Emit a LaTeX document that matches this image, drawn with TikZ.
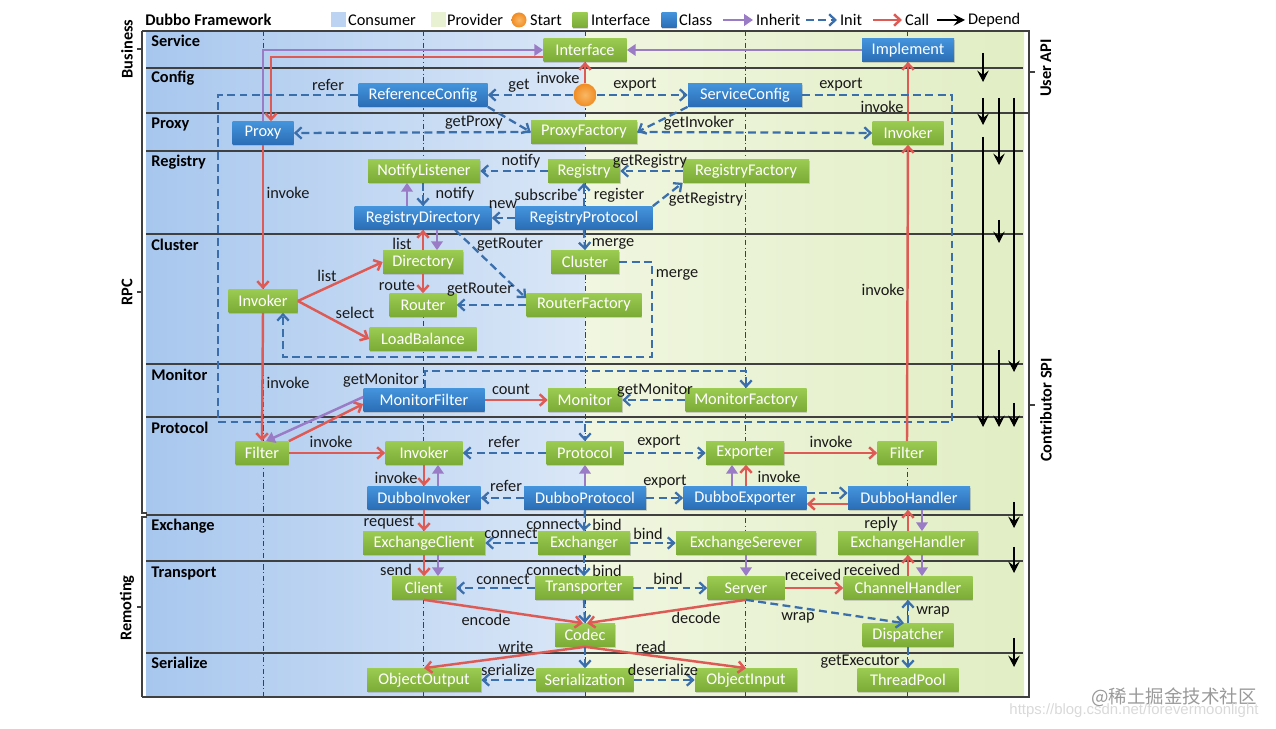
\documentclass[tikz,border=0pt]{standalone}
\usepackage{fontspec}
\setmainfont{Carlito}
\newfontfamily\cjkfont{Noto Sans CJK SC}
\newfontfamily\wmfont{Liberation Sans}
\usetikzlibrary{arrows.meta,shadows,calc}
\definecolor{callc}{HTML}{DD5A55}
\definecolor{initc}{HTML}{3A6FAC}
\definecolor{inhc}{HTML}{9A7BC6}
\definecolor{gtop}{HTML}{9CCB52}
\definecolor{gbot}{HTML}{7BAA36}
\definecolor{btop}{HTML}{4494DC}
\definecolor{bbot}{HTML}{2A6DB6}
\definecolor{consL}{HTML}{A8C7EE}
\definecolor{consR}{HTML}{DAE7F7}
\definecolor{provL}{HTML}{F0F6E0}
\definecolor{provR}{HTML}{E1EEC4}
\definecolor{startin}{HTML}{F9B866}
\definecolor{startout}{HTML}{F08C22}
\definecolor{laneline}{HTML}{404040}
\begin{document}
\begin{tikzpicture}[x=0.02cm,y=-0.02cm,font=\fontsize{9.3}{11}\selectfont,
  box/.style={inner sep=0pt,minimum height=0.46cm,text=white,
    drop shadow={shadow xshift=0.5pt,shadow yshift=-0.7pt,opacity=0.3}},
  ifc/.style={box,top color=gtop,bottom color=gbot},
  cls/.style={box,top color=btop,bottom color=bbot},
  startball/.style={circle,inner sep=0,inner color=startin,outer color=startout},
  wd/.style={minimum width=#1*0.02cm},
  lbl/.style={inner sep=0.5pt,text=black!90},
  layer/.style={font=\fontsize{9.3}{11}\selectfont\bfseries,anchor=west,inner sep=0pt},
  init/.style={draw=initc,line width=1.3pt,dash pattern=on 4.5pt off 2.5pt,-{Straight Barb[length=3.5pt,width=6.5pt]}},
  call/.style={draw=callc,line width=1.4pt,-{Straight Barb[length=3.5pt,width=6.5pt]}},
  inh/.style={draw=inhc,line width=1.4pt,-{Triangle[length=5pt,width=6.5pt]}},
  dep/.style={draw=black,line width=0.6pt,-{Stealth[length=6.5pt,width=6.5pt,inset=2.5pt]}},
  lane/.style={draw=laneline,line width=0.4pt,dash pattern=on 3pt off 1.5pt on 0.6pt off 1.5pt},
  sep/.style={draw=laneline,line width=0.7pt},
  brk/.style={draw=black!75,line width=0.8pt}]
\useasboundingbox (0,0) rectangle (1276,729);
% backgrounds
\shade[left color=consL,right color=consR] (146,31) rectangle (585,697);
\shade[left color=provL,right color=provR] (585,31) rectangle (1024,697);
% lanes
\foreach \xx in {263,423,585,745,907} \draw[lane] (\xx,31) -- (\xx,697);
% layer separators
\foreach \yy in {68,113,151,234,364,417,515,561,653} \draw[sep] (146,\yy) -- (1023,\yy);
% frame and brackets
\draw[brk] (142,31) -- (1029,31) -- (1029,697) -- (142,697);
\draw[brk] (142,31) -- (142,513) -- (147,513);
\draw[brk] (147,517) -- (142,517) -- (142,697);
\draw[brk] (142,49) -- (137,49) (142,292) -- (137,292) (142,607) -- (137,607);
\draw[brk] (1029,113) -- (1023,113) (1029,72) -- (1035,72) (1029,405) -- (1035,405);
\node[rotate=90,font=\fontsize{9.3}{11}\selectfont\bfseries] (gbus) at (127,49) {Business};
\node[rotate=90,font=\fontsize{9.3}{11}\selectfont\bfseries] (grpc) at (127,292) {RPC};
\node[rotate=90,font=\fontsize{9.3}{11}\selectfont\bfseries] (grem) at (127,608) {Remoting};
\node[rotate=90,font=\fontsize{9.3}{11}\selectfont\bfseries] (guser) at (1046,68) {User API};
\node[rotate=90,font=\fontsize{9.3}{11}\selectfont\bfseries] (gspi) at (1046,410) {Contributor SPI};
% layer names
\node[layer] (ly1) at (151,41) {Service};
\node[layer] (ly2) at (151,78) {Config};
\node[layer] (ly3) at (151,124) {Proxy};
\node[layer] (ly4) at (151,162) {Registry};
\node[layer] (ly5) at (151,245) {Cluster};
\node[layer] (ly6) at (151,375) {Monitor};
\node[layer] (ly7) at (151,428) {Protocol};
\node[layer] (ly8) at (151,526) {Exchange};
\node[layer] (ly9) at (151,573) {Transport};
\node[layer] (ly10) at (151,663) {Serialize};
% legend
\node[layer] (title) at (145,20) {Dubbo Framework};
\node[inner sep=0,minimum size=15*0.02cm,fill=consL!60!consR] (sw1) at (338,20) {};
\node[anchor=west,inner sep=1pt] (lt1) at (346,20) {Consumer};
\node[inner sep=0,minimum size=15*0.02cm,fill=provL!50!provR] (sw2) at (438,20) {};
\node[anchor=west,inner sep=1pt] (lt2) at (445,20) {Provider};
\node[startball,minimum size=15*0.02cm] (sw3) at (519,20) {};
\node[anchor=west,inner sep=1pt] (lt3) at (528,20) {Start};
\node[ifc,minimum size=15*0.02cm] (sw4) at (580,20) {};
\node[anchor=west,inner sep=1pt] (lt4) at (589,20) {Interface};
\node[cls,minimum size=15*0.02cm] (sw5) at (669,20) {};
\node[anchor=west,inner sep=1pt] (lt5) at (677,20) {Class};
\coordinate (la1) at (723,20); \coordinate (lb1) at (753,20);
\draw[inh] (la1) -- (lb1);
\node[anchor=west,inner sep=1pt] (lt6) at (754,20) {Inherit};
\coordinate (la2) at (806,20); \coordinate (lb2) at (837,20);
\draw[init] (la2) -- (lb2);
\node[anchor=west,inner sep=1pt] (lt7) at (838,20) {Init};
\coordinate (la3) at (873,20); \coordinate (lb3) at (902,20);
\draw[call] (la3) -- (lb3);
\node[anchor=west,inner sep=1pt] (lt8) at (903,20) {Call};
\coordinate (la4) at (937,20); \coordinate (lb4) at (965,20);
\draw[dep] (la4) -- (lb4);
\node[anchor=west,inner sep=1pt] (lt9) at (966,20) {Depend};
% nodes
\node[ifc,wd=83] (iface) at (585,50) {Interface};
\node[cls,wd=92] (impl) at (908,50) {Implement};
\node[cls,wd=129] (refc) at (423,95) {ReferenceConfig};
\node[startball,minimum size=23*0.02cm] (start) at (585,95) {};
\node[cls,wd=114] (svcc) at (745,95) {ServiceConfig};
\node[cls,wd=61] (proxy) at (263,133) {Proxy};
\node[ifc,wd=106] (pfac) at (584,132) {ProxyFactory};
\node[ifc,wd=71] (invt) at (908,133) {Invoker};
\node[ifc,wd=112] (nlis) at (424,171) {NotifyListener};
\node[ifc,wd=72] (reg) at (584,171) {Registry};
\node[ifc,wd=126] (regf) at (746,171) {RegistryFactory};
\node[cls,wd=137] (rdir) at (423,218) {RegistryDirectory};
\node[cls,wd=137] (rproto) at (584,218) {RegistryProtocol};
\node[ifc,wd=80] (dir) at (423,262) {Directory};
\node[ifc,wd=67] (router) at (423,305) {Router};
\node[ifc,wd=107] (lb) at (423,339) {LoadBalance};
\node[ifc,wd=69] (cinv) at (263,301) {Invoker};
\node[ifc,wd=68] (clus) at (585,262) {Cluster};
\node[ifc,wd=115] (rfac) at (584,305) {RouterFactory};
\node[cls,wd=121] (mfil) at (424,400) {MonitorFilter};
\node[ifc,wd=74] (mon) at (585,400) {Monitor};
\node[ifc,wd=121] (mfac) at (746,400) {MonitorFactory};
\node[ifc,wd=53] (filt1) at (262,453) {Filter};
\node[ifc,wd=77] (pinv) at (424,453) {Invoker};
\node[ifc,wd=77] (proto) at (585,453) {Protocol};
\node[ifc,wd=78] (expo) at (745,453) {Exporter};
\node[ifc,wd=59] (filt2) at (907,453) {Filter};
\node[cls,wd=113] (dinv) at (424,498) {DubboInvoker};
\node[cls,wd=122] (dproto) at (585,498) {DubboProtocol};
\node[cls,wd=123] (dexp) at (745,498) {DubboExporter};
\node[cls,wd=122] (dhand) at (909,498) {DubboHandler};
\node[ifc,wd=122] (eclient) at (424,543) {ExchangeClient};
\node[ifc,wd=92] (exch) at (584,543) {Exchanger};
\node[ifc,wd=140] (eserv) at (746,543) {ExchangeSerever};
\node[ifc,wd=140] (ehand) at (908,543) {ExchangeHandler};
\node[ifc,wd=64] (client) at (424,588) {Client};
\node[ifc,wd=98] (trans) at (584,588) {Transporter};
\node[ifc,wd=77] (server) at (746,588) {Server};
\node[ifc,wd=129] (chand) at (908,588) {ChannelHandler};
\node[ifc,wd=60] (codec) at (585,635) {Codec};
\node[ifc,wd=91] (disp) at (908,635) {Dispatcher};
\node[ifc,wd=114] (oout) at (424,680) {ObjectOutput};
\node[ifc,wd=97] (ser) at (585,680) {Serialization};
\node[ifc,wd=102] (oin) at (746,680) {ObjectInput};
\node[ifc,wd=101] (tpool) at (908,680) {ThreadPool};
% ---- edges: service/config/proxy
\draw[inh] (proxy.north) |- (iface.west);
\draw[call] ($(iface.west)+(0,7)$) -| ($(proxy.north)+(8,0)$);
\draw[inh] (impl.west) -- (iface.east);
\draw[call] (invt.north) -- (impl.south);
\draw[call] (start.north) -- (iface.south);
\draw[init] (start.west) -- (refc.east);
\draw[init] (start.east) -- (svcc.west);
\draw[init] (refc.west) -- (218,0 |- refc.west) -- (218,422) -- (proto.north |- 0,422) -- (proto.north);
\draw[init,-] (svcc.east) -- (952,0 |- svcc.east) -- (952,422) -- (proto.north |- 0,422);
\draw[init] (refc.south east) -- (pfac.west);
\draw[init] (svcc.south west) -- (pfac.east);
\draw[init] (pfac.west) -- (proxy.east);
\draw[init] (pfac.east) -- (invt.west);
% registry
\draw[init] (reg.west) -- (nlis.east);
\draw[init] (regf.west) -- (reg.east);
\draw[init] (rproto.north east) -- (regf.south west);
\draw[init] (rproto.north) -- (reg.south);
\draw[init] (rproto.west) -- (rdir.east);
\draw[inh] (407,0 |- rdir.north) -- (407,0 |- nlis.south);
\draw[init] (423,0 |- nlis.south) -- (423,0 |- rdir.north);
\draw[init] (rproto.south) -- (clus.north);
% cluster
\draw[call] (dir.north) -- (rdir.south);
\draw[inh] (437,0 |- rdir.south) -- (437,0 |- dir.north);
\draw[init] (455,0 |- rdir.south) -- ($(rfac.north west)+(0,5)$);
\draw[init] (rfac.west) -- (router.east);
\draw[call] (dir.south) -- (router.north);
\draw[call] (cinv.east) -- (dir.west);
\draw[call] (cinv.east) -- (lb.west);
\draw[call] (proxy.south) -- (cinv.north);
\draw[init] (clus.east) -- (652,0 |- clus.east) -- (652,357) -- (283,357) -- (283,0 |- cinv.south);
\draw[call] (cinv.south) -- (filt1.north);
% monitor
\draw[init] (425,0 |- mfil.north) -- (425,371) -- (mfac.north |- 0,371) -- (mfac.north);
\draw[init] (mfac.west) -- (mon.east);
\draw[call] (mfil.east) -- (mon.west);
\draw[call] (filt1.north east) -- ($(mfil.west)+(0,4)$);
\draw[inh] ($(mfil.west)+(0,-3)$) -- ($(filt1.north)+(4,0)$);
% protocol
\draw[call] (filt1.east) -- (pinv.west);
\draw[init] (proto.west) -- (pinv.east);
\draw[init] (proto.east) -- (expo.west);
\draw[call] (expo.east) -- (filt2.west);
\draw[call] (filt2.north) -- (invt.south);
\draw[inh] (dproto.north) -- (proto.south);
\draw[init] (dproto.west) -- (dinv.east);
\draw[init] (dproto.east) -- (dexp.west);
\draw[inh] (732,0 |- dexp.north) -- (732,0 |- expo.south);
\draw[call] (746,0 |- dexp.north) -- (746,0 |- expo.south);
\draw[call] (pinv.south) -- (dinv.north);
\draw[inh] (438,0 |- dinv.north) -- (438,0 |- pinv.south);
\draw[init] ($(dexp.east)+(0,-5)$) -- ($(dhand.west)+(0,-5)$);
\draw[call] ($(dhand.west)+(0,6)$) -- ($(dexp.east)+(0,6)$);
% exchange
\draw[call] (dinv.south) -- (eclient.north);
\draw[init] (dproto.south) -- (exch.north);
\draw[init] (exch.west) -- (eclient.east);
\draw[init] (exch.east) -- (eserv.west);
\draw[call] (908,0 |- ehand.north) -- (908,0 |- dhand.south);
\draw[inh] (922,0 |- dhand.south) -- (922,0 |- ehand.north);
\draw[call] (eclient.south) -- (client.north);
\draw[inh] (438,0 |- eclient.south) -- (438,0 |- client.north);
\draw[init] (exch.south) -- (trans.north);
\draw[inh] (eserv.south) -- (server.north);
\draw[call] (908,0 |- chand.north) -- (908,0 |- ehand.south);
\draw[inh] (922,0 |- ehand.south) -- (922,0 |- chand.north);
% transport
\draw[init] (trans.west) -- (client.east);
\draw[init] (trans.east) -- (server.west);
\draw[call] (server.east) -- (chand.west);
\draw[init] (server.south) -- ($(disp.north)+(-4,0)$);
\draw[init] (disp.north) -- (chand.south);
\draw[call] (client.south) -- ($(codec.north)+(-2,0)$);
\draw[call] (server.south) -- ($(codec.north)+(2,0)$);
\draw[init] (trans.south) -- (codec.north);
% serialize
\draw[call] (codec.south) -- (oout.north);
\draw[call] (codec.south) -- (oin.north);
\draw[init] (codec.south) -- (ser.north);
\draw[init] (ser.west) -- (oout.east);
\draw[init] (ser.east) -- (oin.west);
\draw[init] (disp.south) -- (tpool.north);
% depend arrows
\draw[dep] (983,53) -- (983,82);
\draw[dep] (983,98) -- (983,125);
\draw[dep] (983,137) -- (983,427);
\draw[dep] (999,98) -- (999,165);
\draw[dep] (999,220) -- (999,243);
\draw[dep] (999,350) -- (999,427);
\draw[dep] (1014,98) -- (1014,372);
\draw[dep] (1014,403) -- (1014,427);
\draw[dep] (1014,502) -- (1014,528);
\draw[dep] (1014,547) -- (1014,573);
\draw[dep] (1014,638) -- (1014,667);
% labels
\node[lbl] (l1) at (558,78) {invoke};
\node[lbl] (l2) at (882,107) {invoke};
\node[lbl] (l3) at (519,86) {get};
\node[lbl] (l4) at (635,85) {export};
\node[lbl] (l5) at (328,85) {refer};
\node[lbl] (l6) at (841,85) {export};
\node[lbl] (l7) at (474,123) {getProxy};
\node[lbl] (l8) at (699,123) {getInvoker};
\node[lbl] (l9) at (521,161) {notify};
\node[lbl] (l10) at (650,161) {getRegistry};
\node[lbl] (l11) at (706,199) {getRegistry};
\node[lbl] (l12) at (546,195) {subscribe};
\node[lbl] (l13) at (619,195) {register};
\node[lbl] (l14) at (503,205) {new};
\node[lbl] (l15) at (455,194) {notify};
\node[lbl] (l16) at (613,244) {merge};
\node[lbl] (l17) at (402,244) {list};
\node[lbl] (l18) at (510,245) {getRouter};
\node[lbl] (l19) at (480,290) {getRouter};
\node[lbl] (l20) at (397,285) {route};
\node[lbl] (l21) at (327,276) {list};
\node[lbl] (l22) at (355,313) {select};
\node[lbl] (l23) at (288,193) {invoke};
\node[lbl] (l24) at (677,275) {merge};
\node[lbl] (l25) at (288,383) {invoke};
\node[lbl] (l26) at (381,380) {getMonitor};
\node[lbl] (l27) at (655,390) {getMonitor};
\node[lbl] (l28) at (511,389) {count};
\node[lbl] (l29) at (331,442) {invoke};
\node[lbl] (l30) at (504,442) {refer};
\node[lbl] (l31) at (659,442) {export};
\node[lbl] (l32) at (831,442) {invoke};
\node[lbl] (l33) at (883,290) {invoke};
\node[lbl] (l34) at (506,486) {refer};
\node[lbl] (l35) at (665,482) {export};
\node[lbl] (l36) at (779,477) {invoke};
\node[lbl] (l37) at (396,478) {invoke};
\node[lbl] (l38) at (389,523) {request};
\node[lbl] (l39) at (553,524) {connect};
\node[lbl] (l40) at (607,525) {bind};
\node[lbl] (l41) at (511,533) {connect};
\node[lbl] (l42) at (648,534) {bind};
\node[lbl] (l43) at (881,524) {reply};
\node[lbl] (l44) at (396,570) {send};
\node[lbl] (l45) at (553,570) {connect};
\node[lbl] (l46) at (607,571) {bind};
\node[lbl] (l47) at (872,570) {received};
\node[lbl] (l48) at (503,579) {connect};
\node[lbl] (l49) at (668,579) {bind};
\node[lbl] (l50) at (813,575) {received};
\node[lbl] (l51) at (798,618) {wrap};
\node[lbl] (l52) at (933,612) {wrap};
\node[lbl] (l53) at (486,620) {encode};
\node[lbl] (l54) at (696,618) {decode};
\node[lbl] (l55) at (516,647) {write};
\node[lbl] (l56) at (651,647) {read};
\node[lbl] (l57) at (508,670) {serialize};
\node[lbl] (l58) at (663,670) {deserialize};
\node[lbl] (l59) at (860,662) {getExecutor};
% watermark
\node[text=black!40,font=\cjkfont\fontsize{10.5}{12}\selectfont,inner sep=0] (wm1) at (1174,697) {@稀土掘金技术社区};
\node[text=black!15,font=\wmfont\fontsize{8.5}{10}\selectfont,inner sep=0] (wm2) at (1134,711) {https://blog.csdn.net/forevermoonlight};
\end{tikzpicture}
\end{document}
